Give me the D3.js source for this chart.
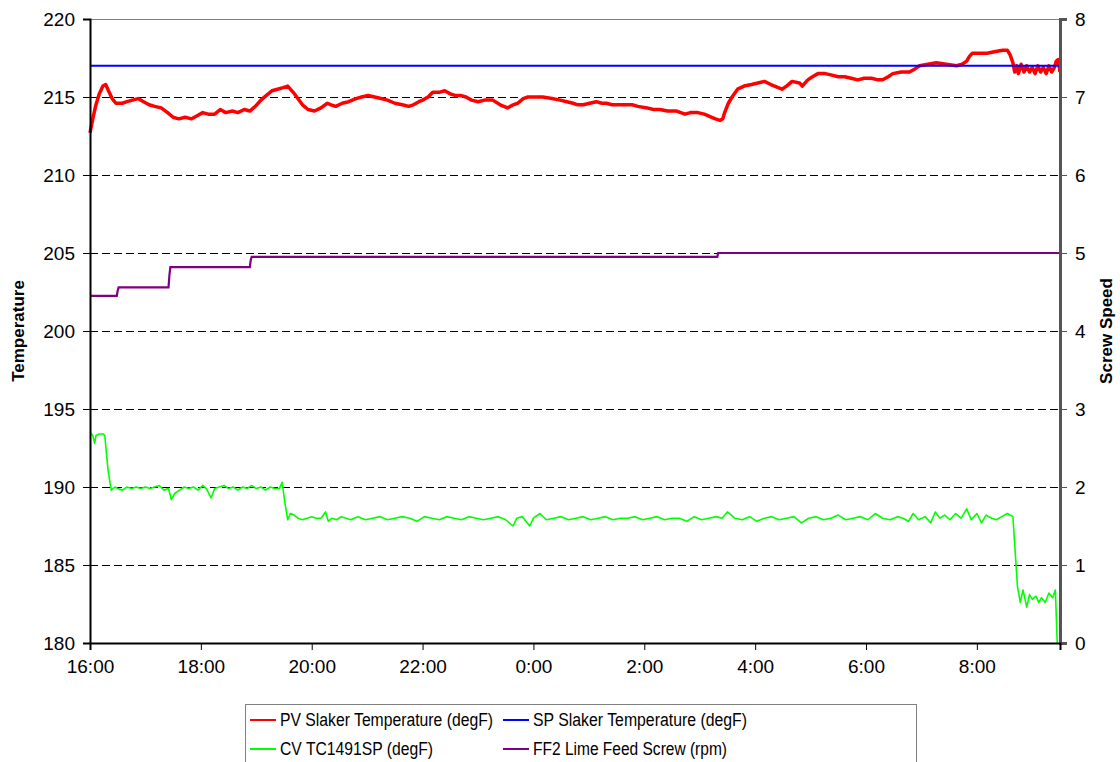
<!DOCTYPE html>
<html>
<head>
<meta charset="utf-8">
<script src="https://cdn.jsdelivr.net/npm/d3@7"></script>
<style>
  body { margin: 0; background: #fff; }
  svg { display: block; font-family: Arial, "Liberation Sans", sans-serif; }
</style>
</head>
<body>
<svg id="chart" width="1120" height="762"></svg>
<script>
// ---- DATA (minutes after 16:00) ----
const leftTicks = [180, 185, 190, 195, 200, 205, 210, 215, 220];
const rightTicks = [0, 1, 2, 3, 4, 5, 6, 7, 8];
const timeTickLabels = ["16:00", "18:00", "20:00", "22:00", "0:00", "2:00", "4:00", "6:00", "8:00"];

const pvTimes = [0,3,6,10,14,17,20,24,28,35,40,46,52,58,64,70,77,84,90,96,103,110,116,122,128,135,141,147,154,160,167,173,179,185,191,197,203,209,214,
  220,225,230,236,243,250,257,261,266,273,280,288,294,301,308,315,322,330,338,345,350,356,360,366,371,378,384,390,395,401,407,413,420,427,436,444,452,458,463,469,474,483,490,500,509,516,523,528,534,541,548,554,559,565,573,580,587,593,603,610,617,625,635,644,650,658,665,673,677,682,685,687,691,695,701,708,716,723,730,737,745,749,754,760,768,771,777,782,788,796,803,810,817,824,831,838,846,853,858,864,869,878,887,893,898,907,916,927,938,944,949,952,955,962,971,979,988,993,996,999,1001,1003,1005,1008,1011,1014,1017,1020,1023,1026,1029,1032,1035,1038,1041,1044,1046,1048,1050];
const pvValues = [212.7,213.6,214.4,215.2,215.7,215.8,215.4,214.9,214.6,214.6,214.7,214.8,214.9,214.7,214.5,214.4,214.3,214.0,213.7,213.6,213.7,213.6,213.8,214.0,213.9,213.9,214.2,214.0,214.1,214.0,214.2,214.1,214.4,214.8,215.1,215.4,215.5,215.6,215.7,
  215.3,214.9,214.5,214.2,214.1,214.3,214.6,214.5,214.4,214.6,214.7,214.9,215.0,215.1,215.0,214.9,214.8,214.6,214.5,214.4,214.5,214.7,214.8,215.0,215.3,215.3,215.4,215.2,215.1,215.1,215.0,214.8,214.7,214.8,214.8,214.5,214.3,214.5,214.6,214.9,215.0,215.0,215.0,214.9,214.8,214.7,214.6,214.5,214.5,214.6,214.7,214.6,214.6,214.5,214.5,214.5,214.5,214.4,214.3,214.2,214.2,214.1,214.1,213.9,214.0,214.0,213.9,213.7,213.6,213.5,213.6,214.0,214.6,215.0,215.5,215.7,215.8,215.9,216.0,215.8,215.6,215.5,215.7,216.0,215.9,215.7,216.1,216.3,216.5,216.5,216.4,216.3,216.3,216.2,216.1,216.2,216.2,216.1,216.1,216.3,216.5,216.6,216.6,216.8,217.0,217.1,217.2,217.1,217.0,217.1,217.3,217.6,217.8,217.8,217.8,217.9,218.0,218.0,217.7,217.2,216.6,217.0,216.5,217.1,216.6,217.0,216.6,216.9,216.5,217.0,216.6,216.9,216.5,217.0,216.6,216.9,217.3,217.4,216.6,216.9];

const spTimes = [0, 1050];
const spValues = [217, 217];

const cvTimes = [0,3,5,6.5,10,14,16,19.5,23,27,30,35,40,45,50,55,60,65,70,75,80,85,88,92,97,102,107,112,117,122,126,131,135,140,145,150,155,160,165,170,175,180,185,190,195,200,205,208,211,214,217,221,225,230,235,240,245,250,255,258,262,267,272,277,282,
  290,298,306,314,322,330,338,346,354,362,370,378,386,394,402,410,418,426,434,442,450,458,462,468,476,480,487,494,502,510,518,526,534,542,550,558,566,574,582,590,598,606,614,622,630,638,646,654,662,670,678,684,690,698,706,714,722,730,738,746,754,762,770,778,786,794,802,810,818,826,834,842,850,858,866,874,880,886,891,897,904,910,915,920,925,931,937,943,949,954,960,965,970,976,981,987,993,999,1002,1004,1007,1010,1014,1017,1020,1024,1027,1030,1034,1038,1042,1045,1047,1048,1049];
const cvValues = [193.5,193.3,192.8,193.3,193.4,193.4,193.3,191.1,189.8,190.0,189.9,189.8,190.0,189.9,190.0,189.9,190.0,189.9,190.0,190.1,189.8,189.9,189.2,189.6,189.8,190.0,189.9,190.0,189.8,190.1,189.9,189.3,189.9,190.0,190.1,189.9,190.0,189.8,190.0,189.9,190.1,189.9,190.0,189.8,190.0,189.9,189.9,190.3,189.0,187.9,188.3,188.2,188.0,187.9,188.0,188.1,188.0,188.0,188.4,187.8,188.0,187.9,188.1,188.0,187.9,
  188.1,187.9,188.0,188.1,187.9,188.0,188.1,188.0,187.8,188.1,188.0,187.9,188.1,188.0,187.9,188.1,188.0,187.9,188.0,188.1,187.9,187.5,188.0,188.1,187.5,188.0,188.3,187.9,188.0,188.1,187.9,188.0,188.1,187.9,188.0,188.1,187.9,188.0,188.0,188.1,187.9,188.0,188.1,187.9,188.0,188.0,187.8,188.1,187.9,188.0,188.1,188.0,188.4,188.0,187.9,188.1,187.8,188.0,188.1,187.9,188.0,188.1,187.7,188.0,188.1,187.9,188.0,188.2,187.9,188.0,188.1,187.9,188.3,188.0,187.9,188.1,188.0,187.8,188.3,187.9,188.1,187.7,188.4,188.0,188.2,187.9,188.3,188.0,188.6,187.9,188.3,187.7,188.2,188.0,187.9,188.1,188.3,188.1,185.4,183.6,182.6,183.4,182.3,183.1,182.8,183.0,182.6,182.9,182.6,183.2,182.9,183.4,180.0];

const ffTimes = [0,29,30,31,85,86,87,173,174,175,679,680,1050];
const ffValues = [4.45,4.45,4.52,4.56,4.56,4.72,4.82,4.82,4.91,4.95,4.95,5.0,5.0];

const seriesNames = ["PV Slaker Temperature (degF)", "SP Slaker Temperature (degF)", "CV TC1491SP (degF)", "FF2 Lime Feed Screw (rpm)"];
const seriesColors = ["#ff0000", "#0000ff", "#00ff00", "#800080"];

// ---- CHART ----
const svg = d3.select("#chart");
const L = 90, R = 1060, T = 19, B = 643;
const t0 = new Date(2000, 0, 1, 16, 0);
const toDate = m => new Date(t0.getTime() + m * 60000);

const x = d3.scaleTime().domain([t0, toDate(1050)]).range([L, R]);
const yL = d3.scaleLinear().domain([180, 220]).range([B, T]);
const yR = d3.scaleLinear().domain([0, 8]).range([B, T]);

// grid
svg.append("g").selectAll("line")
  .data(leftTicks.filter(v => v > 180 && v < 220))
  .join("line")
  .attr("x1", L).attr("x2", R)
  .attr("y1", d => Math.round(yL(d)) + 0.5).attr("y2", d => Math.round(yL(d)) + 0.5)
  .attr("stroke", "#000").attr("stroke-width", 1).attr("stroke-dasharray", "8,4");
// top border
svg.append("line").attr("x1", L).attr("x2", R).attr("y1", T + 0.5).attr("y2", T + 0.5)
  .attr("stroke", "#808080").attr("stroke-width", 1);

// lines
const mk = (times, vals, ys) => times.map((t, i) => [x(toDate(t)), ys(vals[i])]);
const line = d3.line();
svg.append("path").attr("d", line(mk(pvTimes, pvValues, yL)))
  .attr("fill", "none").attr("stroke", seriesColors[0]).attr("stroke-width", 3.5).attr("stroke-linejoin", "round");
svg.append("path").attr("d", line(mk(spTimes, spValues, yL)))
  .attr("fill", "none").attr("stroke", seriesColors[1]).attr("stroke-width", 2);
svg.append("path").attr("d", line(mk(cvTimes, cvValues, yL)))
  .attr("fill", "none").attr("stroke", seriesColors[2]).attr("stroke-width", 1.6).attr("stroke-linejoin", "round");
svg.append("path").attr("d", line(mk(ffTimes, ffValues, yR)))
  .attr("fill", "none").attr("stroke", seriesColors[3]).attr("stroke-width", 2.2);

// axes
const fs = "19px";
const gL = svg.append("g").attr("transform", `translate(${L},0)`)
  .call(d3.axisLeft(yL).tickValues(leftTicks).tickSize(7).tickPadding(8).tickFormat(d3.format("d")));
const gR = svg.append("g").attr("transform", `translate(${R},0)`)
  .call(d3.axisRight(yR).tickValues(rightTicks).tickSize(7).tickPadding(8).tickFormat(d3.format("d")));
const xTicks = d3.range(0, 17 * 60, 120).map(toDate);
const gX = svg.append("g").attr("transform", `translate(0,${B})`)
  .call(d3.axisBottom(x).tickValues(xTicks).tickSize(7).tickPadding(10)
    .tickFormat((d, i) => timeTickLabels[i]));
[gL, gR, gX].forEach(g => {
  g.selectAll("text").attr("font-size", fs).attr("font-family", "Arial, 'Liberation Sans', sans-serif").attr("fill", "#000");
  g.selectAll("line").attr("stroke", "#000");
  g.select(".domain").attr("stroke", "#000").attr("stroke-width", 2);
});
gR.select(".domain").attr("stroke", "#555").attr("stroke-width", 3);
gR.selectAll("line").attr("stroke", "#555");
gX.select(".domain").attr("stroke-width", 2);

// axis titles
svg.append("text").attr("transform", `translate(24,${(T + B) / 2}) rotate(-90)`)
  .attr("text-anchor", "middle").attr("font-size", "17px").attr("font-weight", "bold").text("Temperature");
svg.append("text").attr("transform", `translate(1112,${(T + B) / 2}) rotate(-90)`)
  .attr("text-anchor", "middle").attr("font-size", "17px").attr("font-weight", "bold").text("Screw Speed");

// legend
const lg = svg.append("g");
lg.append("rect").attr("x", 245.5).attr("y", 704.5).attr("width", 671).attr("height", 70)
  .attr("fill", "#fff").attr("stroke", "#808080").attr("stroke-width", 1);
const pos = [[250, 720], [503, 720], [250, 749], [503, 749]];
const legendWidths = [213, 214, 153, 194];
seriesNames.forEach((n, i) => {
  const [px, py] = pos[i];
  lg.append("line").attr("x1", px).attr("x2", px + 26).attr("y1", py).attr("y2", py)
    .attr("stroke", seriesColors[i]).attr("stroke-width", 2);
  lg.append("text").attr("x", px + 30).attr("y", py).attr("dy", "0.35em")
    .attr("font-size", "18px")
    .attr("textLength", legendWidths[i]).attr("lengthAdjust", "spacingAndGlyphs")
    .text(n);
});
</script>
</body>
</html>
